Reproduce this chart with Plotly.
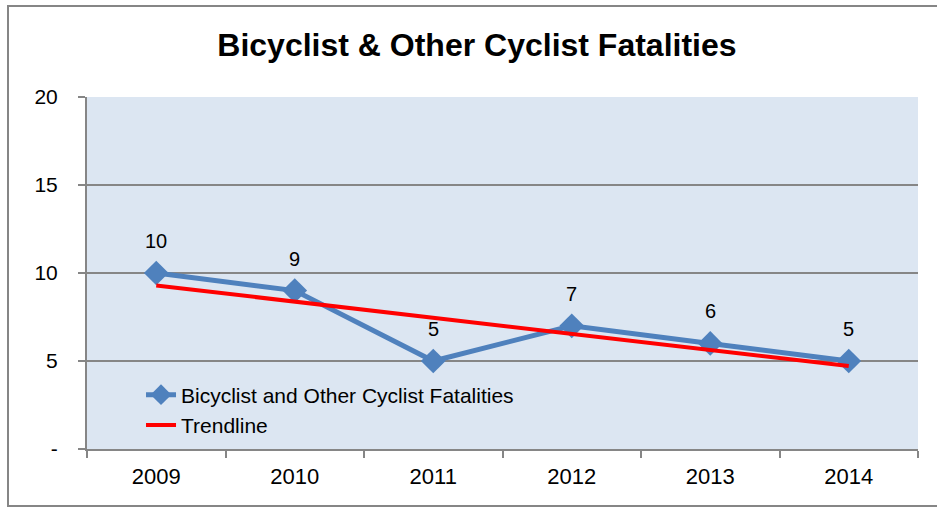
import plotly.graph_objects as go

years = ["2009", "2010", "2011", "2012", "2013", "2014"]
fatalities = [10, 9, 5, 7, 6, 5]
trendline = [9.29, 8.37, 7.46, 6.54, 5.63, 4.71]
y_ticks = [0, 5, 10, 15, 20]
y_tick_text = ["-", "5", "10", "15", "20"]

fig = go.Figure()

fig.add_trace(go.Scatter(
    x=years, y=fatalities, name="Bicyclist and Other Cyclist Fatalities",
    mode="lines+markers",
    line=dict(color="#4F81BD", width=5),
    marker=dict(symbol="diamond", size=19, color="#4F81BD"),
))

fig.add_trace(go.Scatter(
    x=years, y=trendline, name="Trendline", mode="lines",
    line=dict(color="#FF0000", width=4),
))

# value labels above the points (category axis -> use the category index)
for i, v in enumerate(fatalities):
    fig.add_annotation(x=i, y=v, text=str(v), showarrow=False, yshift=32,
                       font=dict(size=20, color="black"))

fig.update_xaxes(
    type="category", tickson="boundaries", ticks="outside", ticklen=7,
    tickcolor="#868686", tickwidth=2, showline=True, linecolor="#868686", linewidth=2,
    showgrid=False, tickfont=dict(size=22, color="black"),
    range=[-0.5, 5.5], ticklabelstandoff=7,
)

fig.update_yaxes(
    range=[0, 20], tickvals=y_ticks, ticktext=y_tick_text,
    ticks="outside", ticklen=7, tickcolor="#868686", tickwidth=2,
    showline=True, linecolor="#868686", linewidth=2,
    showgrid=True, gridcolor="#868686", gridwidth=1.5,
    zeroline=False, tickfont=dict(size=21, color="black"),
    ticklabelstandoff=16,
)

fig.update_layout(
    width=937, height=508,
    margin=dict(l=87, r=19, t=97, b=59),
    paper_bgcolor="white", plot_bgcolor="#DCE6F2",
    font=dict(family="Liberation Sans, Arial, sans-serif", color="black"),
    title=dict(text="<b>Bicyclist & Other Cyclist Fatalities</b>",
               x=0.509, xanchor="center", y=0.912, yanchor="middle",
               font=dict(size=32, color="black")),
    showlegend=True,
    legend=dict(x=0.065, y=0.01, xanchor="left", yanchor="bottom",
                bgcolor="rgba(0,0,0,0)", font=dict(size=21),
                tracegroupgap=0),
)

# outer chart border
fig.add_shape(type="rect", xref="paper", yref="paper",
              x0=-79 / 831, x1=1 + 40 / 831, y0=-57 / 352, y1=1 + 91 / 352,
              line=dict(color="#868686", width=2), fillcolor="rgba(0,0,0,0)")

fig.write_html("out.html", config={"displayModeBar": False},
               post_script="document.body.style.margin='0';")
